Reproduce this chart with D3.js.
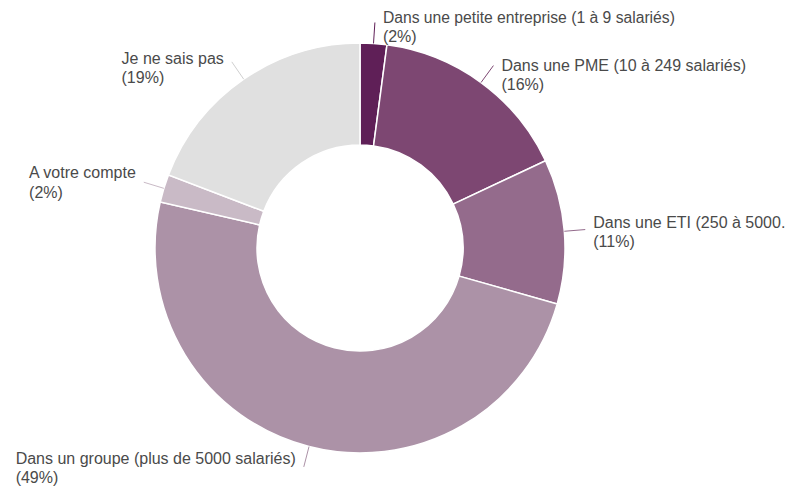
<!DOCTYPE html>
<html><head><meta charset="utf-8">
<script src="https://cdn.jsdelivr.net/npm/d3@7"></script>
<style>body{margin:0;background:#fff}svg{display:block}</style>
</head><body>
<svg id="chart" width="802" height="487"></svg>
<script>
const categories = [
  "Dans une petite entreprise (1 à 9 salariés)",
  "Dans une PME (10 à 249 salariés)",
  "Dans une ETI (250 à 5000.",
  "Dans un groupe (plus de 5000 salariés)",
  "A votre compte",
  "Je ne sais pas"
];
const values = [2.1, 15.9, 11.4, 49.2, 2.2, 19.2];
const percentLabels = ["(2%)", "(16%)", "(11%)", "(49%)", "(2%)", "(19%)"];
const colors = ["#5f1f57", "#7d4772", "#946b8c", "#ac92a7", "#c9bac6", "#e0e0e0"];
// small vertical nudges of label baselines relative to leader end (layout only)
const labelNudge = [0, 5, -2, -3, -4, 2];

const svg = d3.select("#chart");
const cx = 360, cy = 248, rOuter = 205, rInner = 103;
const g = svg.append("g").attr("transform", `translate(${cx},${cy})`);

const pie = d3.pie().sort(null).value(d => d.v);
const data = pie(categories.map((c, i) => ({c, v: values[i], p: percentLabels[i], col: colors[i], dy: labelNudge[i]})));
const arc = d3.arc().innerRadius(rInner).outerRadius(rOuter);

g.selectAll("path.slice").data(data).join("path")
  .attr("class", "slice")
  .attr("d", arc)
  .attr("fill", d => d.data.col)
  .attr("stroke", "#fff").attr("stroke-width", 1.5);

const lineEndR = 226;
data.forEach((d, i) => {
  const a = (d.startAngle + d.endAngle) / 2;
  const sx = Math.sin(a) * rOuter, sy = -Math.cos(a) * rOuter;
  const ex = Math.sin(a) * lineEndR, ey = -Math.cos(a) * lineEndR;
  g.append("line").attr("x1", sx).attr("y1", sy).attr("x2", ex).attr("y2", ey)
    .attr("stroke", d.data.col === "#e0e0e0" ? "#d0d0d0" : d.data.col).attr("stroke-width", 1);
  const t = g.append("text")
    .attr("font-family", "Liberation Sans, Arial, sans-serif")
    .attr("font-size", 16).attr("fill", "#4a4a4a");
  const t1 = t.append("tspan").text(d.data.c);
  const t2 = t.append("tspan").text(d.data.p);
  if (i === 0) t1.attr("textLength", 292).attr("lengthAdjust", "spacingAndGlyphs");
  const w = Math.max(i === 0 ? 292 : t1.node().getComputedTextLength(), t2.node().getComputedTextLength());
  const x = ex > 0 ? ex + 8 : ex - 8 - w;
  const y = ey + d.data.dy;
  t1.attr("x", x).attr("y", y);
  t2.attr("x", x).attr("y", y + 19.5);
});
</script>
</body></html>
